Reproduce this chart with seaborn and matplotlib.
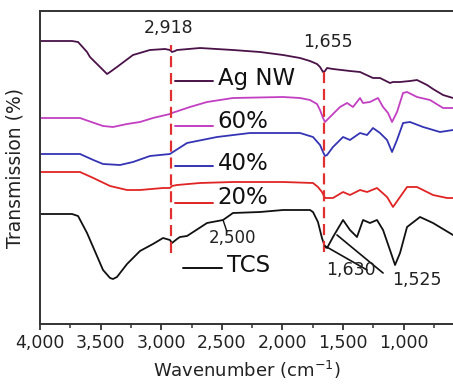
import numpy as np
import pandas as pd
import matplotlib
matplotlib.use("Agg")
import matplotlib.pyplot as plt
from matplotlib.ticker import MultipleLocator, FuncFormatter
import seaborn as sns

# ---- data (wavenumber in cm^-1, transmission in arbitrary offset units) ----
agnw_w = [4000, 3736, 3686, 3612, 3588, 3480, 3447, 3422, 3365, 3233, 3093, 2969, 2928, 2911, 2887, 2870,
          2680, 2408, 2185, 1995, 1855, 1773, 1715, 1690, 1665, 1649, 1632, 1583, 1443, 1360, 1253, 1195,
          1113, 1088, 1030, 948, 890, 807, 758, 675, 593]
agnw_y = [283, 283, 282, 272, 267, 254, 250, 252, 257, 269, 274, 275, 274, 272, 273, 274,
          276, 274, 272, 269, 266, 263, 260, 257, 252, 253, 256, 255, 253, 252, 246, 246,
          241, 242, 242, 243, 244, 239, 235, 229, 226]

p60_w = [4000, 3670, 3600, 3480, 3398, 3282, 3175, 3068, 2928, 2911, 2763, 2622, 2408, 1995, 1855, 1773,
         1715, 1690, 1665, 1649, 1608, 1525, 1467, 1418, 1360, 1335, 1278, 1212, 1170, 1129, 1096, 1055,
         1005, 972, 890, 783, 675, 593]
p60_y = [206, 206, 203, 198, 197, 200, 202, 206, 210, 211, 217, 222, 226, 227, 226, 224,
         220, 214, 206, 202, 207, 217, 221, 217, 226, 221, 222, 226, 217, 211, 202, 212,
         231, 232, 227, 224, 216, 216]

p40_w = [4000, 3670, 3560, 3480, 3340, 3233, 3093, 2928, 2903, 2787, 2540, 2268, 1855, 1748, 1690, 1665,
         1649, 1632, 1583, 1500, 1443, 1360, 1302, 1253, 1195, 1137, 1096, 1055, 1005, 948, 840, 700, 593]
p40_y = [170, 170, 164, 160, 159, 162, 168, 170, 172, 181, 187, 191, 191, 187, 179, 172,
         168, 169, 177, 187, 184, 191, 189, 196, 191, 184, 172, 184, 201, 202, 197, 192, 194]

p20_w = [4000, 3670, 3560, 3422, 3282, 3175, 2985, 2928, 2911, 2870, 2680, 2408, 1995, 1748, 1707, 1674,
         1649, 1583, 1500, 1443, 1360, 1302, 1220, 1137, 1088, 1030, 972, 890, 758, 642, 593]
p20_y = [152, 152, 146, 138, 134, 134, 136, 136, 138, 139, 141, 142, 142, 141, 137, 132,
         126, 126, 132, 129, 134, 132, 136, 127, 117, 127, 137, 137, 129, 126, 126]

tcs_w = [4000, 3736, 3686, 3612, 3480, 3422, 3398, 3365, 3282, 3175, 3068, 2985, 2928, 2911, 2870, 2845,
         2787, 2622, 2490, 2408, 2185, 1995, 1773, 1748, 1707, 1674, 1649, 1632, 1583, 1500, 1443, 1385,
         1335, 1278, 1220, 1170, 1113, 1071, 1030, 972, 865, 758, 593]
tcs_y = [110, 110, 108, 91, 54, 46, 45, 47, 60, 73, 80, 86, 84, 81, 85, 87,
         88, 101, 104, 111, 112, 114, 114, 112, 102, 86, 77, 76, 87, 104, 94, 87,
         104, 101, 104, 94, 74, 59, 71, 97, 107, 101, 89]

series_names = ["Ag NW", "60%", "40%", "20%", "TCS"]
series_colors = ["#4a1248", "#c23fc2", "#3434b4", "#e02424", "#111111"]
marked_peaks = [2918, 1655]
peak_notes = ["1,630", "1,525", "2,500"]
tick_values = [4000, 3500, 3000, 2500, 2000, 1500, 1000]

frames = []
for name, w, y in zip(series_names, [agnw_w, p60_w, p40_w, p20_w, tcs_w],
                      [agnw_y, p60_y, p40_y, p20_y, tcs_y]):
    frames.append(pd.DataFrame({"wavenumber": w, "T": y, "sample": name}))
df = pd.concat(frames, ignore_index=True)

sns.set_theme(style="ticks")
plt.rcParams["font.family"] = ["DejaVu Sans"]

fig = plt.figure(figsize=(4.53, 3.87), dpi=100)
ax = fig.add_axes([40 / 453, 63 / 387, 413 / 453, 313 / 387])

sns.lineplot(data=df, x="wavenumber", y="T", hue="sample", palette=dict(zip(series_names, series_colors)),
             linewidth=1.3, legend=False, ax=ax, sort=True, estimator=None)

ax.set_xlim(4000, 593)
ax.set_ylim(0, 313)

# dashed reference lines
dash = dict(color="#e03030", lw=1.6, linestyle=(0, (5, 2.6)))
ax.plot([marked_peaks[0], marked_peaks[0]], [71, 279], **dash)
ax.plot([marked_peaks[1], marked_peaks[1]], [72, 257], **dash)
ax.text(marked_peaks[0] + 25, 296, "2,918", ha="center", va="center", fontsize=12.5, color="#222")
ax.text(marked_peaks[1] - 30, 282, "1,655", ha="center", va="center", fontsize=12.5, color="#222")

# peak annotations on TCS
ax.plot([1649, 1302], [78, 54], color="#111", lw=1.2)
ax.plot([1550, 1170], [89, 51], color="#111", lw=1.2)
ax.plot([2490, 2457], [104, 92], color="#111", lw=1.0)
ax.text(1435, 54, peak_notes[0], ha="center", va="center", fontsize=12.5, color="#222")
ax.text(895, 44, peak_notes[1], ha="center", va="center", fontsize=12.5, color="#222")
ax.text(2415, 86, peak_notes[2], ha="center", va="center", fontsize=12, color="#222")

# inline legend
leg_rows = [(2886, 2573, 243, 246), (2886, 2573, 198, 202), (2886, 2573, 158, 161),
            (2886, 2573, 121, 126), (2820, 2500, 56, 59)]
for (x0, x1, yl, yt), name, col in zip(leg_rows, series_names, series_colors):
    ax.plot([x0, x1], [yl, yl], color=col, lw=1.4)
    ax.text(x1 - 40, yt, name, ha="left", va="center", fontsize=16.5, color="#111")

# axes styling
for s in ["left", "top", "bottom"]:
    ax.spines[s].set_color("#333")
    ax.spines[s].set_linewidth(1.4)
ax.spines["right"].set_visible(False)
ax.set_yticks([])
ax.set_xticks(tick_values)
ax.xaxis.set_minor_locator(MultipleLocator(250))
ax.xaxis.set_major_formatter(FuncFormatter(lambda v, p: f"{int(v):,}"))
ax.tick_params(axis="x", which="major", direction="out", length=4, width=1.3, color="#333",
               labelsize=12.5, pad=3, labelcolor="#222")
ax.tick_params(axis="x", which="minor", direction="out", length=3, width=1.1, color="#333")
ax.set_xlabel("Wavenumber (cm$^{-1}$)", fontsize=13, labelpad=5, color="#222")
ax.set_ylabel("Transmission (%)", fontsize=13.5, color="#222")
ax.yaxis.set_label_coords(-0.038, 0.5)

fig.savefig("out.png", dpi=100)
